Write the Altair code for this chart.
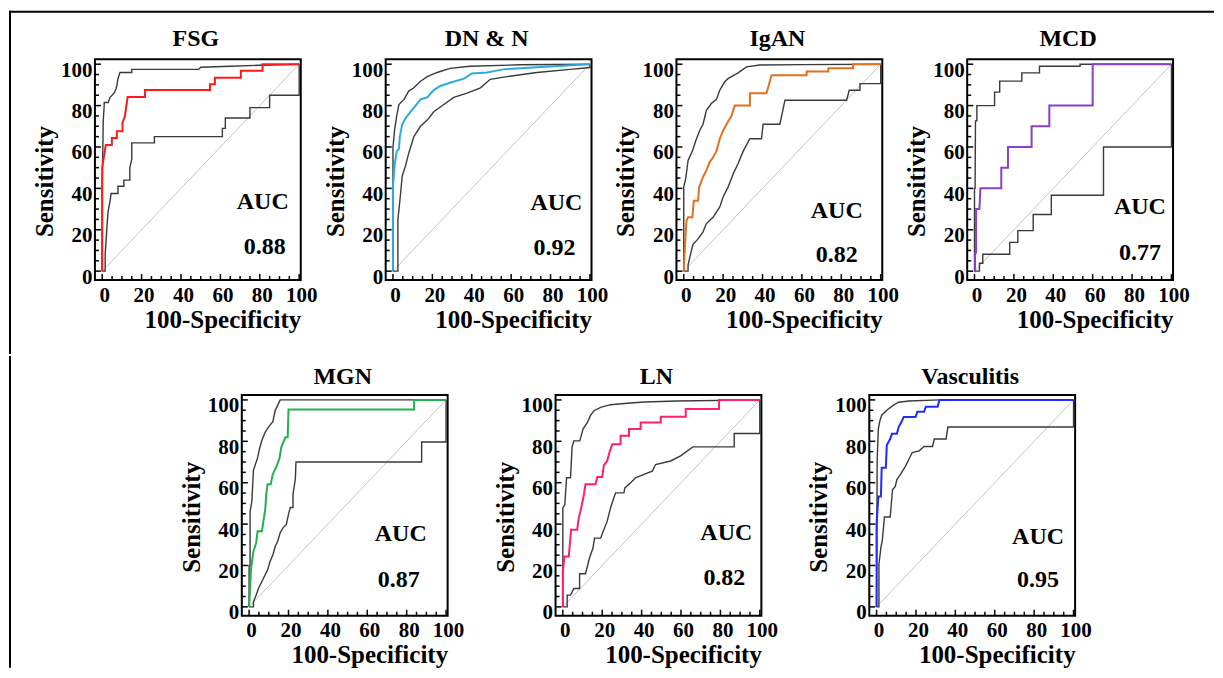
import altair as alt
import pandas as pd

FONT = "Liberation Serif"

# ---------------- data ----------------
TITLES = ["FSG", "DN & N", "IgAN", "MCD", "MGN", "LN", "Vasculitis"]
AUC_TEXT = ["0.88", "0.92", "0.82", "0.77", "0.87", "0.82", "0.95"]
ROC_COLORS = ["#ff1a1a", "#29abe2", "#e2701f", "#8a3fc8", "#22b14c", "#ff1f6a", "#1f2bff"]

FSG_ROC = [(0,0),(0,50),(0.8,55),(1.8,61),(4.9,61),(4.9,64.3),(7.4,64.3),(7.4,67.6),(10.3,67.6),(10.3,71.6),(11.5,74.9),(12,78.1),(12.9,84.1),(21.7,84.1),(21.7,87.5),(54.7,87.5),(54.7,90.3),(57.2,90.3),(57.2,93.5),(70.4,93.5),(70.4,96.8),(81.4,96.8),(81.4,100),(100,100)]
FSG_UP = [(0,0),(0,40),(0.5,72),(1,80),(1,81.5),(3,81.5),(4,84),(6,86),(7,88),(7.5,90),(8,93),(9,96),(15,96),(15,97.5),(49,97.5),(50,98.5),(65,99),(80,99.5),(100,100)]
FSG_LO = [(0,0),(1.5,0),(1.5,8),(2,15),(2.5,23),(3,29),(4,34),(4.5,37.5),(8,37.5),(8,41),(11,41),(11,44),(14,44),(14,50),(15,54),(15,62),(26.5,62),(26.5,65),(61,65),(61,69),(62.5,69),(62.5,74),(75,74),(75,79),(85,79),(85,85),(100,85),(100,100)]

DN_ROC = [(0,0),(0,41),(0.8,51),(1.9,58),(3,59),(3.5,65),(4.7,71),(6.4,74),(8.9,77),(11.5,80),(14,83),(17.4,84),(20.7,87.5),(24,89.5),(29,91),(36,93),(40,95.5),(47.7,96),(56,97.5),(73,98.5),(81.5,99),(100,100)]
DN_UP = [(0,0),(0,60),(0.8,68),(1.9,75),(3,80.5),(5.6,83),(8,87),(10.6,88.6),(14,91.8),(17.4,94),(22.4,96),(29,98),(39,99),(64.6,99.7),(100,100)]
DN_LO = [(0,0),(2.5,0),(2.5,25),(3.5,34),(4.7,46),(6.4,51),(8,57),(10.6,65),(14,70),(17.4,73),(20.7,77),(25.8,80.5),(30.9,84),(37.6,86),(44.4,88.6),(49.4,92.7),(57.8,94),(73,96),(90,97.5),(100,98.4),(100,100)]

IGAN_ROC = [(0,0),(0.5,10),(1.4,24.5),(2.2,26),(4.4,26),(5.1,34),(7.3,34),(7.8,40.6),(9.8,45.5),(11.5,48.7),(13.2,52.7),(14.9,55),(16.6,58),(18.3,64),(20,68),(21.7,71),(24.2,75),(25.9,80),(33.6,80),(33.6,86),(42,86),(44.6,94.7),(62.4,94.7),(62.4,96.5),(73.4,96.5),(73.4,98),(86,98),(86,100),(100,100)]
IGAN_UP = [(0,0),(0,40.6),(1,44.7),(2.2,53.5),(4.4,58),(6.1,63),(8.1,68),(9.8,71),(11.5,77.7),(14,81),(16.6,83),(18.3,87.4),(20.8,91.5),(22.5,93),(27.6,95.8),(31.9,98.7),(38.6,99.6),(60,99.8),(100,100)]
IGAN_LO = [(0,0),(2.2,0),(2.2,3),(3.1,6.8),(4.7,13),(7.3,15.6),(9.8,19),(11.5,23),(14.9,26),(18.3,31),(20,35.8),(22.5,40.6),(25.1,47),(27.6,52),(30.2,58),(33.6,64),(39.5,64),(40.3,71),(48.8,71),(51.4,82.6),(82.7,82.6),(84,87.4),(89.5,87.4),(89.5,90.6),(100,90.6),(100,100)]

MCD_ROC = [(0,0),(0.3,0),(0.3,9),(0.8,9),(0.8,30),(2.5,30),(3,40),(13.6,40),(13.6,50),(17,50),(17,60),(29,60),(29,70),(38,70),(38,80),(60,80),(60,100),(100,100)]
MCD_UP = [(0,0),(0,40),(0.3,40),(0.5,72.6),(1.2,72.6),(1.2,80),(10.2,80),(10.2,86.5),(12.8,86.5),(12.8,91.8),(24,91.8),(24,95.8),(33,95.8),(33,99),(53.6,99),(53.6,100),(100,100)]
MCD_LO = [(0,0),(2.5,0),(2.5,3.8),(4.2,3.8),(4.2,8.2),(17.9,8.2),(17.9,13.9),(22,13.9),(22,19.6),(29.8,19.6),(29.8,27.4),(39,27.4),(39,36.7),(65.5,36.7),(65.5,60),(100,60),(100,100)]

MGN_ROC = [(0,0),(0.5,9),(1,18.7),(2.2,26.8),(3.6,31),(4.3,36.6),(6.5,36.6),(7.3,41.5),(8.2,47),(8.7,54.5),(9.4,59.3),(11,59.3),(12,64),(14,68),(15.5,72),(16.3,77),(18.4,82),(19.6,82),(20,95.4),(83.8,95.4),(83.8,100),(100,100)]
MGN_UP = [(0,0),(0,20),(0.5,20),(0.5,46),(1.4,51),(2.2,66),(4.3,72),(5.3,76.4),(6.5,80.5),(8.2,84.5),(9.9,87),(12,89.4),(13.3,95),(14.6,97.6),(15.8,100),(100,100)]
MGN_LO = [(0,0),(2.2,0),(2.2,2.4),(3.6,5.7),(4.8,9),(7.3,13.8),(9.4,17.9),(10.7,22),(12.1,25.2),(13.3,29.3),(14.5,31.7),(15.8,35.8),(17.2,38.2),(18.9,39.8),(20,44.7),(20.9,48),(22.3,48),(22.3,54.5),(23.5,62),(23.8,70),(87.6,70),(87.6,79.7),(100,79.7),(100,100)]

LN_ROC = [(0,0),(0,17),(0.8,24.3),(3,24.3),(4.2,37.3),(7.3,37.3),(8.1,43),(9.3,47.8),(10.7,54.3),(11.5,59.2),(16.6,59.2),(17.5,62.7),(20,62.7),(20.8,68.4),(22.5,70.5),(23.9,75.4),(25.1,78.6),(29.3,78.6),(29.3,82.7),(33.6,82.7),(33.6,85.9),(39.5,85.9),(39.5,89.1),(49.7,89.1),(49.7,91.9),(62.4,91.9),(62.4,95.6),(79.3,95.6),(79.3,100),(100,100)]
LN_UP = [(0,0),(0,47.8),(1,49.4),(1.9,62.4),(3.9,62.4),(4.7,77.3),(5.6,80.2),(8.6,80.2),(9.3,82.6),(10.3,86),(12.4,89),(14,92.4),(15.8,94.8),(19.2,96.4),(24.2,97.7),(32.7,98.4),(41.2,99),(58,99.5),(100,100)]
LN_LO = [(0,0),(2.2,0),(2.2,5.7),(3.9,5.7),(5.6,8.9),(8.5,8.9),(8.5,16),(11.5,16),(13.5,23.5),(15.3,28.4),(16.1,33.2),(19.2,33.2),(20.8,37.3),(22.5,41.3),(24.2,47.8),(25.9,52.7),(26.8,55.1),(31,55.1),(31.5,57.5),(34.4,60),(36.9,62.4),(41.2,64),(45.4,65.6),(47.1,68.8),(54.7,70.5),(59.8,73),(66,77.3),(87,77.3),(87,83.8),(100,83.8),(100,100)]

VAS_ROC = [(0,0),(0,40),(0.9,53.3),(2.2,53.3),(2.6,67.2),(4.7,67.2),(5.2,78.2),(6.9,81.1),(7.8,83.6),(10.3,83.6),(11.2,86.9),(12.6,89.3),(13.8,91.8),(19.8,91.8),(20.7,94.3),(24.1,94.3),(25,96.7),(31,96.7),(31.9,100),(100,100)]
VAS_UP = [(0,0),(0.3,71),(0.9,86),(1.7,90),(2.6,92.6),(5.2,95),(8.6,97.5),(11.2,98.9),(16.4,99.5),(31.9,100),(100,100)]
VAS_LO = [(0,0),(1.2,0),(1.2,20.5),(2.2,28.7),(2.9,32),(4,43.4),(6.9,43.4),(8.1,56.6),(9.5,58.2),(10.3,61.5),(12.1,64),(14.7,68),(16.4,71.3),(18.1,74.6),(21.6,75.4),(24.1,77.5),(28.4,77.5),(29.3,81.1),(35.3,81.1),(36.2,86.9),(100,86.9),(100,100)]

DIAGONAL = [(0, 0), (100, 100)]
LABEL_TICKS = [0, 20, 40, 60, 80, 100]
MINOR_TICKS = [5, 10, 15, 25, 30, 35, 45, 50, 55, 65, 70, 75, 85, 90, 95]

# ---------------- layout settings ----------------
# AUC text anchor (data units): x_auc, y_auc, x_val, y_val
AUC_POS = [(81.5, 33.5, 82.5, 11.7), (83, 33, 82, 11), (77.7, 29, 77.7, 8),
           (84, 31, 84, 9), (77, 35, 76, 13), (83, 35.6, 82, 14), (82, 34, 82, 13)]
W, H = 206, 221
XDOM = [-3.7, 100.8]
YDOM = [-4.3, 102.4]


def pts_df(pts, series):
    return pd.DataFrame({"x": [p[0] for p in pts], "y": [p[1] for p in pts],
                         "i": list(range(len(pts))), "series": series})


def panel(k, roc, up, lo, title_dy):
    xs = alt.Scale(domain=XDOM, nice=False, zero=False)
    ys = alt.Scale(domain=YDOM, nice=False, zero=False)
    xaxis = alt.Axis(values=LABEL_TICKS, format="d", ticks=False, tickSize=0, domain=False,
                     grid=False, labelFont=FONT, labelFontSize=21, labelFontWeight="bold",
                     labelColor="black", labelPadding=4, labelOffset=2, labelFlush=False,
                     labelOverlap=False, title="100-Specificity", titleFont=FONT,
                     titleFontSize=25, titleFontWeight="bold", titleColor="black",
                     titleAnchor="end", titlePadding=2)
    yaxis = alt.Axis(values=LABEL_TICKS, format="d", ticks=False, tickSize=0, domain=False,
                     grid=False, labelFont=FONT, labelFontSize=21, labelFontWeight="bold",
                     labelColor="black", labelPadding=3, labelOffset=6, labelFlush=False,
                     labelOverlap=False, title="Sensitivity", titleFont=FONT,
                     titleFontSize=25, titleFontWeight="bold", titleColor="black",
                     titlePadding=3, titleY=122)
    X = alt.X("x:Q", scale=xs, axis=xaxis)
    Y = alt.Y("y:Q", scale=ys, axis=yaxis)

    diag = alt.Chart(pts_df(DIAGONAL, "diag")).mark_line(
        color="#c4c4c4", strokeWidth=1).encode(x=X, y=Y, order="i:Q")
    ci = alt.Chart(pd.concat([pts_df(lo, "lo"), pts_df(up, "up")])).mark_line(
        color="#3a3a3a", strokeWidth=1.4).encode(x="x:Q", y="y:Q", detail="series:N", order="i:Q")
    curve = alt.Chart(pts_df(roc, "roc")).mark_line(
        color=ROC_COLORS[k], strokeWidth=2).encode(x="x:Q", y="y:Q", order="i:Q")

    xt_major = alt.Chart(pd.DataFrame({"x": LABEL_TICKS})).mark_rule(
        color="black", strokeWidth=1.5).encode(x="x:Q", y=alt.value(H), y2=alt.value(H - 6))
    xt_minor = alt.Chart(pd.DataFrame({"x": MINOR_TICKS})).mark_rule(
        color="black", strokeWidth=1.5).encode(x="x:Q", y=alt.value(H), y2=alt.value(H - 4))
    yt_major = alt.Chart(pd.DataFrame({"y": LABEL_TICKS})).mark_rule(
        color="black", strokeWidth=1.5).encode(y="y:Q", x=alt.value(0), x2=alt.value(6))
    yt_minor = alt.Chart(pd.DataFrame({"y": MINOR_TICKS})).mark_rule(
        color="black", strokeWidth=1.5).encode(y="y:Q", x=alt.value(0), x2=alt.value(4))

    ax, ay, vx, vy = AUC_POS[k]
    txt = alt.Chart(pd.DataFrame({"x": [ax, vx], "y": [ay, vy], "t": ["AUC", AUC_TEXT[k]]})).mark_text(
        font=FONT, fontSize=24, fontWeight="bold", color="black", align="center",
        baseline="middle").encode(x="x:Q", y="y:Q", text="t:N")

    ttl = alt.Chart(pd.DataFrame({"t": [TITLES[k]]})).mark_text(
        font=FONT, fontSize=24, fontWeight="bold", color="black", align="center",
        baseline="alphabetic").encode(x=alt.value(W / 2 - 2), y=alt.value(title_dy), text="t:N")

    return alt.layer(diag, ci, curve, xt_major, xt_minor, yt_major, yt_minor, txt, ttl).properties(
        width=W, height=H)


def spacer(w, bars=()):
    """Empty cell; optional thin filled bars (x1, y1, x2, y2 in pixels) draw the outer frame."""
    one = pd.DataFrame({"a": [0]})
    base = alt.Chart(one).mark_point(opacity=0).encode(
        x=alt.X("a:Q", axis=None), y=alt.Y("a:Q", axis=None))
    layers = [base]
    for (x1, y1, x2, y2) in bars:
        layers.append(alt.Chart(one).mark_rect(color="black").encode(
            x=alt.value(x1), x2=alt.value(x2), y=alt.value(y1), y2=alt.value(y2)))
    return alt.layer(*layers).properties(
        width=w, height=H, view=alt.ViewBackground(stroke="transparent"))


curves = [(FSG_ROC, FSG_UP, FSG_LO), (DN_ROC, DN_UP, DN_LO), (IGAN_ROC, IGAN_UP, IGAN_LO),
          (MCD_ROC, MCD_UP, MCD_LO), (MGN_ROC, MGN_UP, MGN_LO), (LN_ROC, LN_UP, LN_LO),
          (VAS_ROC, VAS_UP, VAS_LO)]
P = [panel(k, *curves[k], title_dy=(-13 if k < 4 else -11)) for k in range(7)]

# outer figure frame, one piece per row (pixel offsets relative to the spacer holding it)
frame_top = spacer(85, [(-292, -48.5, -290, 295), (-292, -48.5, 914, -46.5)])
frame_bottom = spacer(147, [(-86, -39, -84, 273)])

row1 = alt.hconcat(P[0], frame_top, P[1], spacer(85), P[2], spacer(85), P[3],
                   spacing=0, bounds="flush")
row2 = alt.hconcat(frame_bottom, P[4], spacer(108), P[5], spacer(108), P[6],
                   spacing=0, bounds="flush")

chart = alt.vconcat(row1, row2, spacing=0, bounds="full").properties(
    padding={"left": 0, "top": 1, "right": 0, "bottom": 0},
    background="white").configure_view(stroke="black", strokeWidth=2)

chart.save("out.html", embed_options={"renderer": "svg", "actions": False})
